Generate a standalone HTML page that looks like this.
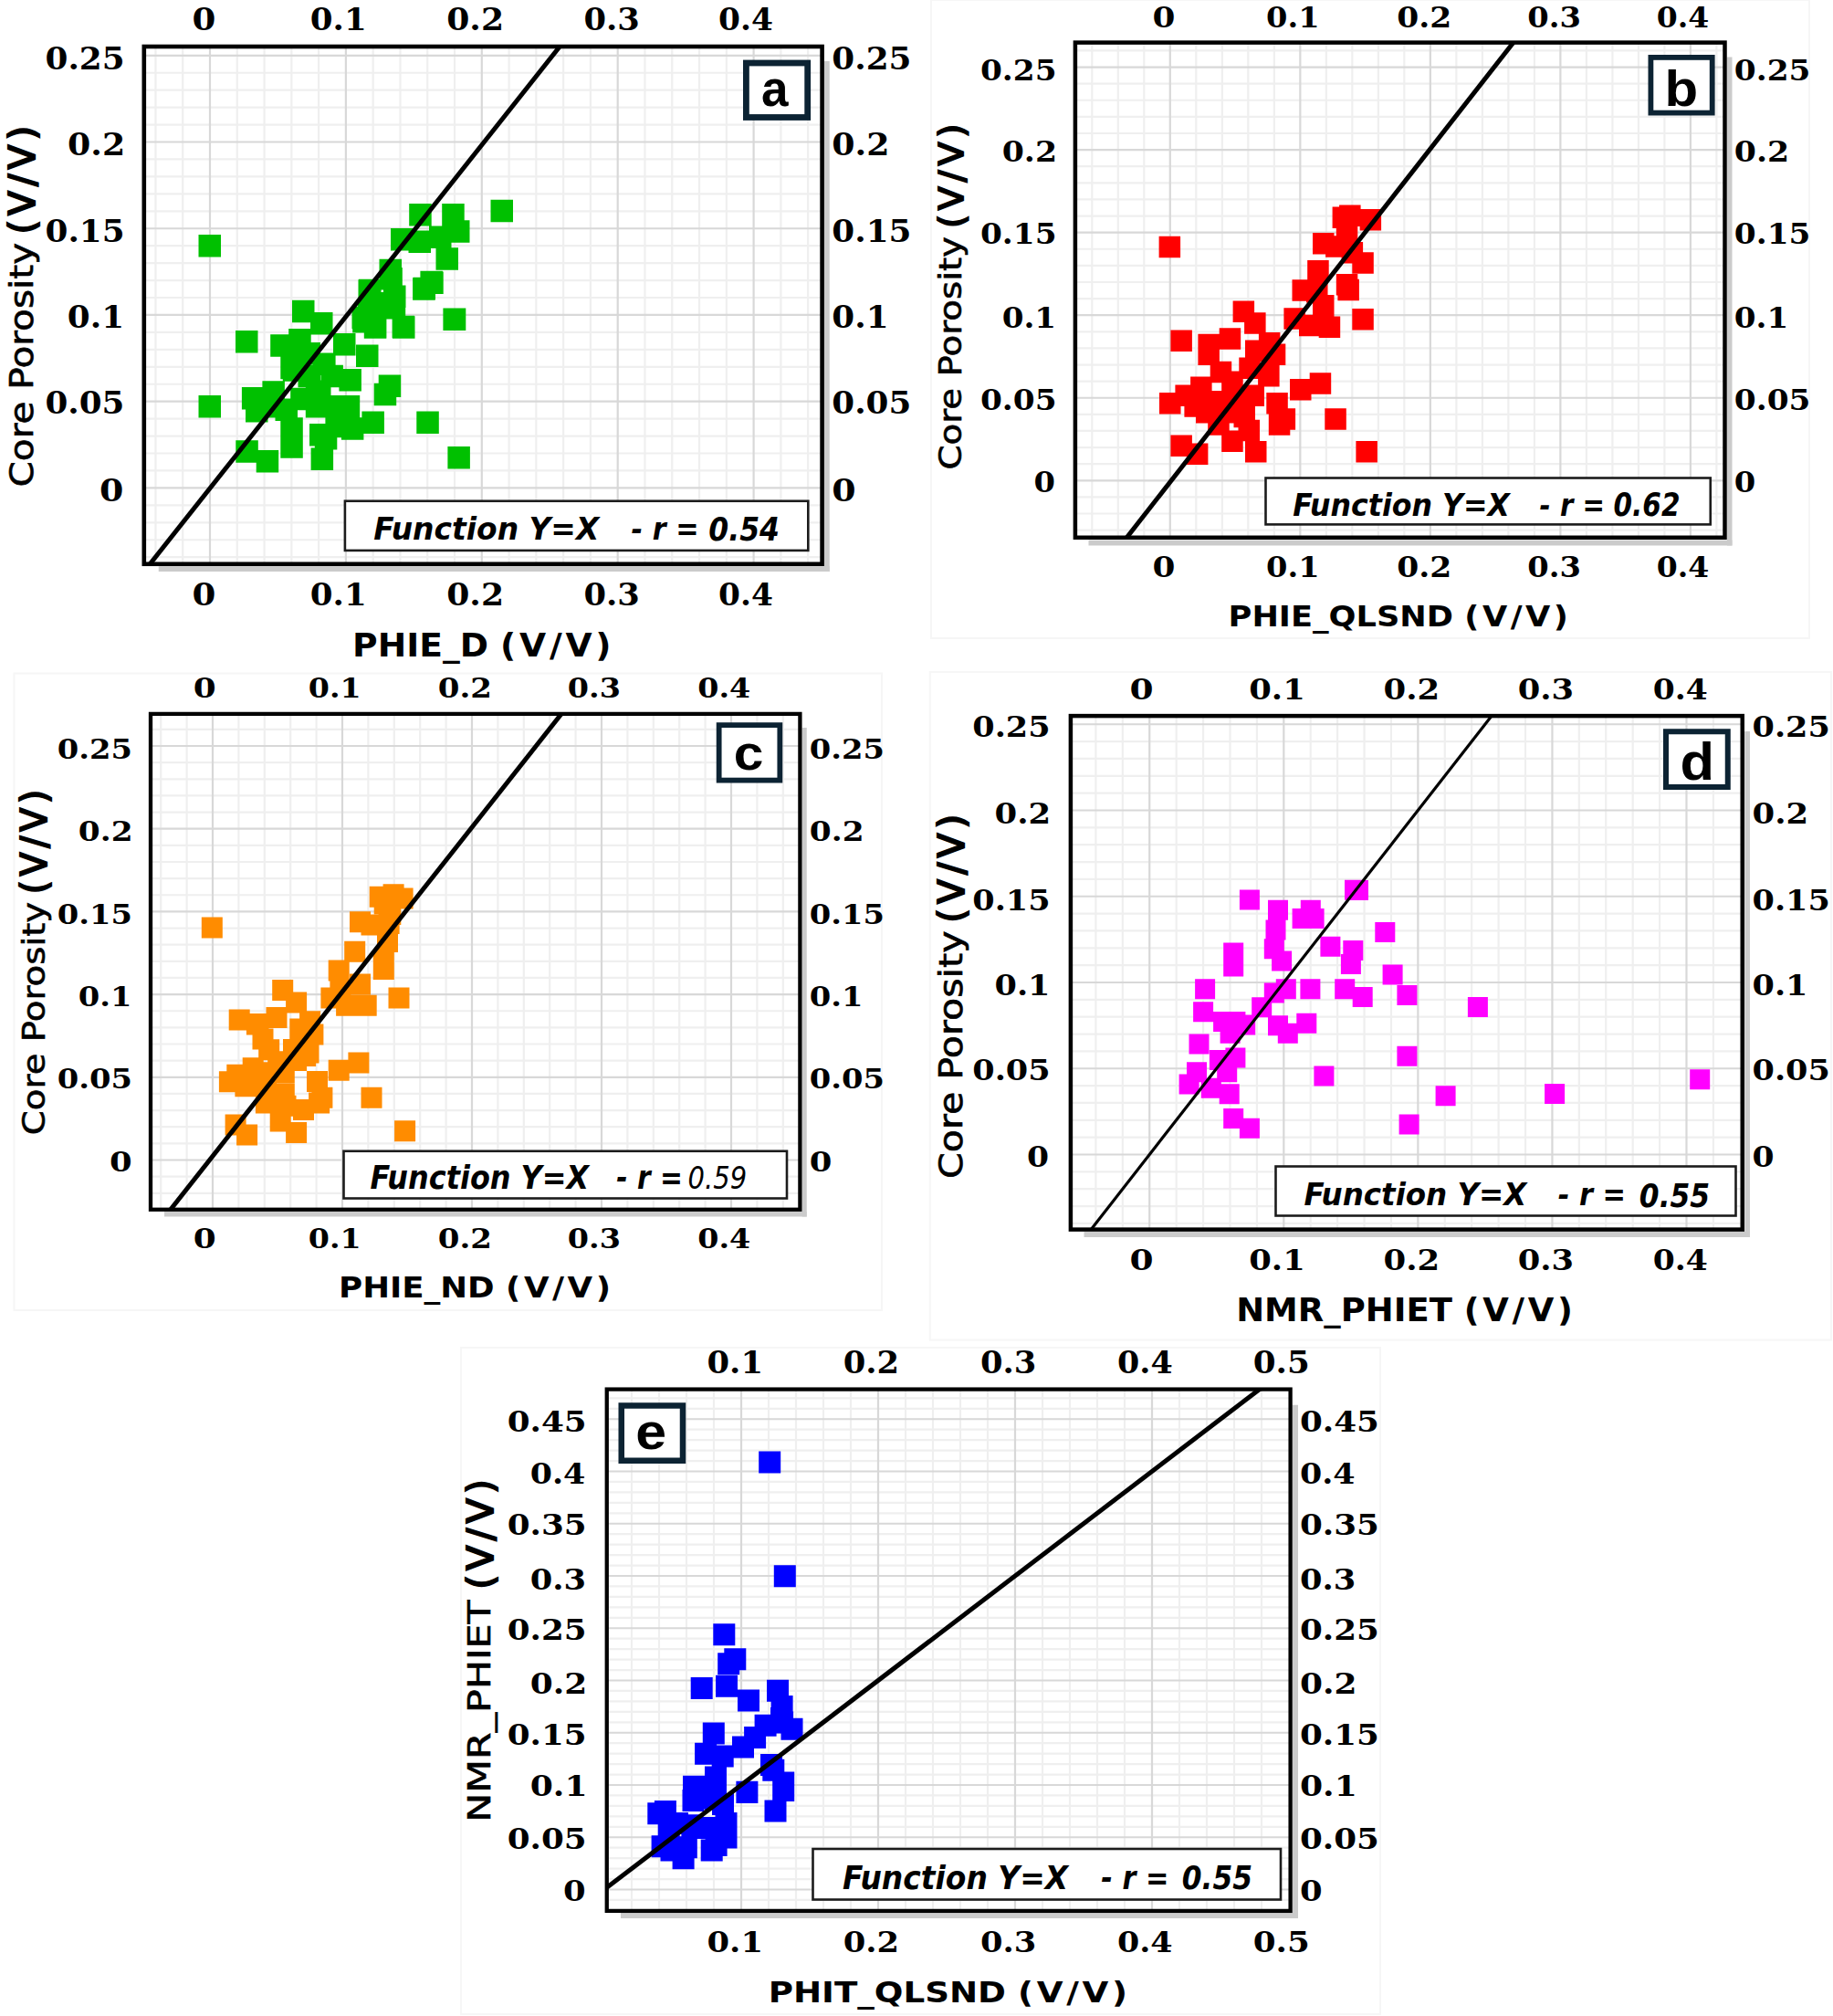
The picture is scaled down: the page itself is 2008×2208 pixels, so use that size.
<!DOCTYPE html><html><head><meta charset="utf-8"><title>Porosity crossplots</title><style>html,body{margin:0;padding:0;background:#fff;}svg{display:block}text{white-space:pre}</style></head><body>
<svg xmlns="http://www.w3.org/2000/svg" width="2008" height="2208" viewBox="0 0 2008 2208" shape-rendering="auto">
<defs>
<clipPath id="clipa"><rect x="157.8" y="51" width="742.8" height="566.75"/></clipPath>
<clipPath id="clipb"><rect x="1177.9" y="46.6" width="711.5999999999999" height="542.15"/></clipPath>
<clipPath id="clipc"><rect x="165" y="781.9" width="711.4" height="542.85"/></clipPath>
<clipPath id="clipd"><rect x="1172.9" y="784.1" width="735.8499999999999" height="562.4999999999999"/></clipPath>
<clipPath id="clipe"><rect x="664.75" y="1521.6" width="748.8499999999999" height="571.3000000000002"/></clipPath>
</defs>
<rect width="2008" height="2208" fill="#fff"/><g>
<rect x="1020" y="0" width="962" height="699" fill="none" stroke="#f6f6f6" stroke-width="2"/>
<rect x="15.5" y="737.5" width="950.5" height="697.5" fill="none" stroke="#f6f6f6" stroke-width="2"/>
<rect x="1018.75" y="736" width="987.25" height="731.5" fill="none" stroke="#f6f6f6" stroke-width="2"/>
<rect x="505" y="1476" width="1007" height="730" fill="none" stroke="#f6f6f6" stroke-width="2"/>
<rect x="903" y="66.9" width="5.75" height="559.1" fill="#cbcbcb"/>
<rect x="173.75" y="620.3" width="735.0" height="5.7000000000000455" fill="#cbcbcb"/>
<rect x="157.8" y="51" width="742.8" height="566.75" fill="#ffffff"/>
<g clip-path="url(#clipa)">
<path d="M170.44 51V617.75M200.22 51V617.75M259.78 51V617.75M289.56 51V617.75M319.34 51V617.75M349.12 51V617.75M408.68 51V617.75M438.46 51V617.75M468.24 51V617.75M498.02 51V617.75M557.58 51V617.75M587.36 51V617.75M617.14 51V617.75M646.92 51V617.75M706.48 51V617.75M736.26 51V617.75M766.04 51V617.75M795.82 51V617.75M855.38 51V617.75M885.16 51V617.75M157.8 610.18H900.6M157.8 591.23H900.6M157.8 572.29H900.6M157.8 553.34H900.6M157.8 515.46H900.6M157.8 496.51H900.6M157.8 477.57H900.6M157.8 458.62H900.6M157.8 420.74H900.6M157.8 401.79H900.6M157.8 382.85H900.6M157.8 363.90H900.6M157.8 326.02H900.6M157.8 307.07H900.6M157.8 288.13H900.6M157.8 269.18H900.6M157.8 231.30H900.6M157.8 212.35H900.6M157.8 193.41H900.6M157.8 174.46H900.6M157.8 136.58H900.6M157.8 117.63H900.6M157.8 98.69H900.6M157.8 79.74H900.6" stroke="#efefef" stroke-width="2.2" fill="none"/>
<path d="M230.00 51V617.75M378.90 51V617.75M527.80 51V617.75M676.70 51V617.75M825.60 51V617.75M157.8 534.40H900.6M157.8 439.68H900.6M157.8 344.96H900.6M157.8 250.24H900.6M157.8 155.52H900.6M157.8 60.80H900.6" stroke="#d8d8d8" stroke-width="2.2" fill="none"/>
<path d="M217.5 257.0h24.5v24.5h-24.5zM537.5 218.8h24.5v24.5h-24.5zM448.2 223.0h24.5v24.5h-24.5zM484.2 223.0h24.5v24.5h-24.5zM490.0 241.2h24.5v24.5h-24.5zM428.0 250.0h24.5v24.5h-24.5zM470.0 247.5h24.5v24.5h-24.5zM447.5 252.5h24.5v24.5h-24.5zM477.5 271.2h24.5v24.5h-24.5zM415.5 283.8h24.5v24.5h-24.5zM461.2 297.5h24.5v24.5h-24.5zM452.5 303.8h24.5v24.5h-24.5zM392.5 306.2h24.5v24.5h-24.5zM420.0 312.5h24.5v24.5h-24.5zM415.0 320.0h24.5v24.5h-24.5zM485.8 337.5h24.5v24.5h-24.5zM320.0 328.8h24.5v24.5h-24.5zM340.0 342.0h24.5v24.5h-24.5zM386.2 340.0h24.5v24.5h-24.5zM398.8 346.2h24.5v24.5h-24.5zM430.0 346.2h24.5v24.5h-24.5zM258.0 362.0h24.5v24.5h-24.5zM296.2 366.2h24.5v24.5h-24.5zM316.2 360.0h24.5v24.5h-24.5zM365.0 365.0h24.5v24.5h-24.5zM390.0 377.5h24.5v24.5h-24.5zM217.5 433.1h24.5v24.5h-24.5zM307.3 390.7h24.5v24.5h-24.5zM287.4 417.3h24.5v24.5h-24.5zM264.9 424.0h24.5v24.5h-24.5zM269.0 438.1h24.5v24.5h-24.5zM371.4 404.0h24.5v24.5h-24.5zM369.7 433.1h24.5v24.5h-24.5zM396.4 450.6h24.5v24.5h-24.5zM373.9 457.2h24.5v24.5h-24.5zM339.0 463.9h24.5v24.5h-24.5zM344.8 468.1h24.5v24.5h-24.5zM340.6 490.5h24.5v24.5h-24.5zM307.3 457.2h24.5v24.5h-24.5zM307.3 477.2h24.5v24.5h-24.5zM280.7 493.0h24.5v24.5h-24.5zM258.3 482.2h24.5v24.5h-24.5zM414.7 410.6h24.5v24.5h-24.5zM409.7 419.8h24.5v24.5h-24.5zM456.3 450.6h24.5v24.5h-24.5zM490.4 488.9h24.5v24.5h-24.5zM485.4 337.4h24.5v24.5h-24.5zM309.8 366.6h24.5v24.5h-24.5zM326.5 374.9h24.5v24.5h-24.5zM309.8 393.2h24.5v24.5h-24.5zM326.5 399.8h24.5v24.5h-24.5zM343.1 386.5h24.5v24.5h-24.5zM351.4 399.8h24.5v24.5h-24.5zM334.8 416.5h24.5v24.5h-24.5zM338.0 416.5h24.5v24.5h-24.5zM318.2 424.8h24.5v24.5h-24.5zM334.8 433.1h24.5v24.5h-24.5zM351.4 433.1h24.5v24.5h-24.5zM301.5 436.4h24.5v24.5h-24.5zM284.9 433.1h24.5v24.5h-24.5zM359.8 441.4h24.5v24.5h-24.5zM356.4 454.7h24.5v24.5h-24.5zM393.0 305.8h24.5v24.5h-24.5zM416.3 293.0h24.5v24.5h-24.5zM419.7 325.0h24.5v24.5h-24.5zM385.5 335.8h24.5v24.5h-24.5zM398.9 345.8h24.5v24.5h-24.5zM429.6 345.8h24.5v24.5h-24.5zM452.1 304.2h24.5v24.5h-24.5zM460.4 296.7h24.5v24.5h-24.5zM409.7 321.6h24.5v24.5h-24.5zM391.8 330.0h24.5v24.5h-24.5z" fill="#00c000"/>
<line x1="-1182.46" y1="2318.20" x2="1959.84" y2="-1649.40" stroke="#000" stroke-width="5"/>
</g>
<rect x="377.9" y="548.75" width="507.4" height="54.14999999999998" fill="#fff" stroke="#1c1c1c" stroke-width="2.6"/>
<rect x="817.4" y="69.0" width="67.30000000000003" height="59.500000000000014" fill="#fff" stroke="#0c2333" stroke-width="6.8"/>
<rect x="157.8" y="51" width="742.8" height="566.75" fill="none" stroke="#000" stroke-width="4.6"/>
<rect x="1892" y="62.5" width="5.5" height="535.0" fill="#cbcbcb"/>
<rect x="1192.5" y="591.5" width="705.0" height="6.0" fill="#cbcbcb"/>
<rect x="1177.9" y="46.6" width="711.5999999999999" height="542.15" fill="#ffffff"/>
<g clip-path="url(#clipb)">
<path d="M1196.28 46.6V588.75M1224.79 46.6V588.75M1253.29 46.6V588.75M1310.31 46.6V588.75M1338.81 46.6V588.75M1367.32 46.6V588.75M1395.82 46.6V588.75M1452.84 46.6V588.75M1481.34 46.6V588.75M1509.85 46.6V588.75M1538.35 46.6V588.75M1595.37 46.6V588.75M1623.87 46.6V588.75M1652.38 46.6V588.75M1680.88 46.6V588.75M1737.90 46.6V588.75M1766.40 46.6V588.75M1794.91 46.6V588.75M1823.41 46.6V588.75M1880.43 46.6V588.75M1177.9 580.63H1889.5M1177.9 562.52H1889.5M1177.9 544.41H1889.5M1177.9 508.19H1889.5M1177.9 490.08H1889.5M1177.9 471.97H1889.5M1177.9 453.86H1889.5M1177.9 417.64H1889.5M1177.9 399.53H1889.5M1177.9 381.42H1889.5M1177.9 363.31H1889.5M1177.9 327.09H1889.5M1177.9 308.98H1889.5M1177.9 290.87H1889.5M1177.9 272.76H1889.5M1177.9 236.54H1889.5M1177.9 218.43H1889.5M1177.9 200.32H1889.5M1177.9 182.21H1889.5M1177.9 145.99H1889.5M1177.9 127.88H1889.5M1177.9 109.77H1889.5M1177.9 91.66H1889.5M1177.9 55.44H1889.5" stroke="#efefef" stroke-width="2.2" fill="none"/>
<path d="M1281.80 46.6V588.75M1424.33 46.6V588.75M1566.86 46.6V588.75M1709.39 46.6V588.75M1851.92 46.6V588.75M1177.9 526.30H1889.5M1177.9 435.75H1889.5M1177.9 345.20H1889.5M1177.9 254.65H1889.5M1177.9 164.10H1889.5M1177.9 73.55H1889.5" stroke="#d8d8d8" stroke-width="2.2" fill="none"/>
<path d="M1269.6 258.8h23.5v23.5h-23.5zM1459.6 226.6h23.5v23.5h-23.5zM1467.1 224.6h23.5v23.5h-23.5zM1489.6 229.1h23.5v23.5h-23.5zM1438.0 254.9h23.5v23.5h-23.5zM1452.1 258.3h23.5v23.5h-23.5zM1463.8 246.6h23.5v23.5h-23.5zM1469.6 264.9h23.5v23.5h-23.5zM1481.3 276.2h23.5v23.5h-23.5zM1432.2 284.9h23.5v23.5h-23.5zM1415.5 306.2h23.5v23.5h-23.5zM1463.8 299.9h23.5v23.5h-23.5zM1465.4 305.7h23.5v23.5h-23.5zM1431.0 308.0h23.5v23.5h-23.5zM1438.0 323.1h23.5v23.5h-23.5zM1406.4 337.3h23.5v23.5h-23.5zM1423.0 344.8h23.5v23.5h-23.5zM1444.7 346.4h23.5v23.5h-23.5zM1481.3 338.1h23.5v23.5h-23.5zM1350.6 329.5h23.5v23.5h-23.5zM1363.1 342.3h23.5v23.5h-23.5zM1282.4 361.6h23.5v23.5h-23.5zM1312.4 365.8h23.5v23.5h-23.5zM1335.7 359.2h23.5v23.5h-23.5zM1378.9 364.1h23.5v23.5h-23.5zM1364.0 372.5h23.5v23.5h-23.5zM1384.8 376.6h23.5v23.5h-23.5zM1312.4 376.6h23.5v23.5h-23.5zM1325.7 395.8h23.5v23.5h-23.5zM1357.3 391.6h23.5v23.5h-23.5zM1378.1 399.9h23.5v23.5h-23.5zM1304.1 412.4h23.5v23.5h-23.5zM1287.4 421.5h23.5v23.5h-23.5zM1270.0 429.9h23.5v23.5h-23.5zM1297.4 433.2h23.5v23.5h-23.5zM1338.2 406.6h23.5v23.5h-23.5zM1361.5 421.5h23.5v23.5h-23.5zM1323.2 453.2h23.5v23.5h-23.5zM1351.5 444.8h23.5v23.5h-23.5zM1356.5 459.8h23.5v23.5h-23.5zM1338.2 471.5h23.5v23.5h-23.5zM1364.0 483.1h23.5v23.5h-23.5zM1282.4 476.5h23.5v23.5h-23.5zM1299.9 485.6h23.5v23.5h-23.5zM1387.3 429.9h23.5v23.5h-23.5zM1395.6 447.3h23.5v23.5h-23.5zM1389.8 453.2h23.5v23.5h-23.5zM1413.0 414.9h23.5v23.5h-23.5zM1434.7 408.2h23.5v23.5h-23.5zM1451.3 447.3h23.5v23.5h-23.5zM1485.4 483.1h23.5v23.5h-23.5zM1318.0 428.0h23.5v23.5h-23.5zM1340.0 428.0h23.5v23.5h-23.5zM1310.0 440.0h23.5v23.5h-23.5zM1330.0 440.0h23.5v23.5h-23.5z" fill="#ff0000"/>
<line x1="-27.40" y1="2203.90" x2="2918.90" y2="-1567.70" stroke="#000" stroke-width="5"/>
</g>
<rect x="1386.5" y="523.5" width="487.25" height="50.89999999999998" fill="#fff" stroke="#1c1c1c" stroke-width="2.6"/>
<rect x="1808.4" y="62.9" width="67.29999999999991" height="60.7" fill="#fff" stroke="#0c2333" stroke-width="5.8"/>
<rect x="1177.9" y="46.6" width="711.5999999999999" height="542.15" fill="none" stroke="#000" stroke-width="4.5"/>
<rect x="878.75" y="797" width="5.0" height="535.5" fill="#cbcbcb"/>
<rect x="180" y="1327" width="703.75" height="5.5" fill="#cbcbcb"/>
<rect x="165" y="781.9" width="711.4" height="542.85" fill="#ffffff"/>
<g clip-path="url(#clipc)">
<path d="M176.20 781.9V1324.75M204.60 781.9V1324.75M261.40 781.9V1324.75M289.80 781.9V1324.75M318.20 781.9V1324.75M346.60 781.9V1324.75M403.40 781.9V1324.75M431.80 781.9V1324.75M460.20 781.9V1324.75M488.60 781.9V1324.75M545.40 781.9V1324.75M573.80 781.9V1324.75M602.20 781.9V1324.75M630.60 781.9V1324.75M687.40 781.9V1324.75M715.80 781.9V1324.75M744.20 781.9V1324.75M772.60 781.9V1324.75M829.40 781.9V1324.75M857.80 781.9V1324.75M165 1306.78H876.4M165 1288.64H876.4M165 1252.36H876.4M165 1234.22H876.4M165 1216.08H876.4M165 1197.94H876.4M165 1161.66H876.4M165 1143.52H876.4M165 1125.38H876.4M165 1107.24H876.4M165 1070.96H876.4M165 1052.82H876.4M165 1034.68H876.4M165 1016.54H876.4M165 980.26H876.4M165 962.12H876.4M165 943.98H876.4M165 925.84H876.4M165 889.56H876.4M165 871.42H876.4M165 853.28H876.4M165 835.14H876.4M165 798.86H876.4" stroke="#efefef" stroke-width="2.2" fill="none"/>
<path d="M233.00 781.9V1324.75M375.00 781.9V1324.75M517.00 781.9V1324.75M659.00 781.9V1324.75M801.00 781.9V1324.75M165 1270.50H876.4M165 1179.80H876.4M165 1089.10H876.4M165 998.40H876.4M165 907.70H876.4M165 817.00H876.4" stroke="#d8d8d8" stroke-width="2.2" fill="none"/>
<path d="M220.8 1004.6h23v23h-23zM404.7 970.8h23v23h-23zM419.6 968.3h23v23h-23zM429.6 972.5h23v23h-23zM409.7 978.3h23v23h-23zM416.3 990.0h23v23h-23zM383.0 998.3h23v23h-23zM395.5 1001.6h23v23h-23zM414.6 1000.0h23v23h-23zM413.0 1019.9h23v23h-23zM377.2 1030.7h23v23h-23zM408.8 1040.0h23v23h-23zM408.8 1050.0h23v23h-23zM359.7 1051.5h23v23h-23zM383.0 1066.5h23v23h-23zM351.4 1081.5h23v23h-23zM368.1 1089.8h23v23h-23zM389.7 1089.8h23v23h-23zM425.5 1081.5h23v23h-23zM298.2 1073.1h23v23h-23zM313.1 1086.5h23v23h-23zM328.1 1107.3h23v23h-23zM317.3 1115.6h23v23h-23zM291.5 1103.1h23v23h-23zM250.7 1105.6h23v23h-23zM269.9 1110.6h23v23h-23zM361.4 1073.0h23v23h-23zM271.5 1110.0h23v23h-23zM331.4 1121.6h23v23h-23zM276.5 1126.6h23v23h-23zM283.2 1138.3h23v23h-23zM310.0 1138.0h23v23h-23zM326.5 1141.6h23v23h-23zM323.1 1144.9h23v23h-23zM265.7 1158.2h23v23h-23zM248.3 1165.7h23v23h-23zM239.9 1173.2h23v23h-23zM257.4 1178.2h23v23h-23zM279.9 1163.2h23v23h-23zM299.8 1163.2h23v23h-23zM313.1 1149.9h23v23h-23zM359.7 1160.7h23v23h-23zM381.4 1152.4h23v23h-23zM341.4 1190.7h23v23h-23zM338.1 1196.5h23v23h-23zM299.8 1186.5h23v23h-23zM279.9 1196.5h23v23h-23zM301.5 1199.8h23v23h-23zM321.0 1204.0h23v23h-23zM295.7 1216.5h23v23h-23zM313.1 1229.0h23v23h-23zM246.6 1220.6h23v23h-23zM259.1 1231.4h23v23h-23zM395.5 1190.7h23v23h-23zM432.1 1227.3h23v23h-23zM293.2 1151.3h23v23h-23zM336.0 1173.0h23v23h-23zM279.9 1183.0h23v23h-23z" fill="#ff8c00"/>
<line x1="-497.10" y1="2192.00" x2="1203.20" y2="36.00" stroke="#000" stroke-width="5"/>
</g>
<rect x="376.5" y="1260.75" width="485.5" height="51.75" fill="#fff" stroke="#1c1c1c" stroke-width="2.6"/>
<rect x="787.65" y="794.15" width="66.7" height="60.45" fill="#fff" stroke="#0c2333" stroke-width="5.8"/>
<rect x="165" y="781.9" width="711.4" height="542.85" fill="none" stroke="#000" stroke-width="4.3"/>
<rect x="1911.25" y="801" width="5.75" height="554" fill="#cbcbcb"/>
<rect x="1187.5" y="1348.75" width="729.5" height="6.25" fill="#cbcbcb"/>
<rect x="1172.9" y="784.1" width="735.8499999999999" height="562.4999999999999" fill="#ffffff"/>
<g clip-path="url(#clipd)">
<path d="M1200.43 784.1V1346.6M1229.84 784.1V1346.6M1288.66 784.1V1346.6M1318.07 784.1V1346.6M1347.49 784.1V1346.6M1376.90 784.1V1346.6M1435.72 784.1V1346.6M1465.13 784.1V1346.6M1494.55 784.1V1346.6M1523.96 784.1V1346.6M1582.78 784.1V1346.6M1612.19 784.1V1346.6M1641.61 784.1V1346.6M1671.02 784.1V1346.6M1729.84 784.1V1346.6M1759.25 784.1V1346.6M1788.67 784.1V1346.6M1818.08 784.1V1346.6M1876.90 784.1V1346.6M1172.9 1339.90H1908.75M1172.9 1321.05H1908.75M1172.9 1302.20H1908.75M1172.9 1283.35H1908.75M1172.9 1245.65H1908.75M1172.9 1226.80H1908.75M1172.9 1207.95H1908.75M1172.9 1189.10H1908.75M1172.9 1151.40H1908.75M1172.9 1132.55H1908.75M1172.9 1113.70H1908.75M1172.9 1094.85H1908.75M1172.9 1057.15H1908.75M1172.9 1038.30H1908.75M1172.9 1019.45H1908.75M1172.9 1000.60H1908.75M1172.9 962.90H1908.75M1172.9 944.05H1908.75M1172.9 925.20H1908.75M1172.9 906.35H1908.75M1172.9 868.65H1908.75M1172.9 849.80H1908.75M1172.9 830.95H1908.75M1172.9 812.10H1908.75" stroke="#efefef" stroke-width="2.2" fill="none"/>
<path d="M1259.25 784.1V1346.6M1406.31 784.1V1346.6M1553.37 784.1V1346.6M1700.43 784.1V1346.6M1847.49 784.1V1346.6M1172.9 1264.50H1908.75M1172.9 1170.25H1908.75M1172.9 1076.00H1908.75M1172.9 981.75H1908.75M1172.9 887.50H1908.75M1172.9 793.25H1908.75" stroke="#d8d8d8" stroke-width="2.2" fill="none"/>
<path d="M1357.9 974.6h22v22h-22zM1473.0 963.7h22v22h-22zM1477.0 964.0h22v22h-22zM1389.0 985.8h22v22h-22zM1424.8 985.8h22v22h-22zM1415.6 994.9h22v22h-22zM1428.6 994.9h22v22h-22zM1386.5 1007.4h22v22h-22zM1384.8 1028.2h22v22h-22zM1393.1 1041.5h22v22h-22zM1340.2 1032.4h22v22h-22zM1340.2 1047.4h22v22h-22zM1506.3 1009.9h22v22h-22zM1446.4 1025.7h22v22h-22zM1471.3 1029.9h22v22h-22zM1468.9 1044.9h22v22h-22zM1514.6 1056.5h22v22h-22zM1530.4 1079.0h22v22h-22zM1462.2 1072.3h22v22h-22zM1481.7 1081.1h22v22h-22zM1424.4 1072.3h22v22h-22zM1397.8 1072.3h22v22h-22zM1384.8 1076.5h22v22h-22zM1371.2 1092.3h22v22h-22zM1309.1 1072.3h22v22h-22zM1307.1 1097.3h22v22h-22zM1329.1 1108.1h22v22h-22zM1342.4 1108.1h22v22h-22zM1389.0 1112.2h22v22h-22zM1420.3 1109.8h22v22h-22zM1353.2 1111.6h22v22h-22zM1336.6 1120.8h22v22h-22zM1399.8 1120.8h22v22h-22zM1302.5 1132.4h22v22h-22zM1324.9 1149.9h22v22h-22zM1342.4 1147.4h22v22h-22zM1300.0 1163.2h22v22h-22zM1291.6 1176.5h22v22h-22zM1333.2 1163.2h22v22h-22zM1315.8 1180.7h22v22h-22zM1335.7 1187.3h22v22h-22zM1340.2 1214.0h22v22h-22zM1357.9 1224.8h22v22h-22zM1439.4 1167.4h22v22h-22zM1530.4 1145.7h22v22h-22zM1532.6 1220.6h22v22h-22zM1607.9 1091.9h22v22h-22zM1572.6 1189.3h22v22h-22zM1692.1 1187.1h22v22h-22zM1851.2 1171.3h22v22h-22z" fill="#ff00ff"/>
<line x1="-211.35" y1="3149.50" x2="2729.85" y2="-620.50" stroke="#000" stroke-width="3.2"/>
</g>
<rect x="1397.5" y="1277.5" width="504.0" height="54.0" fill="#fff" stroke="#1c1c1c" stroke-width="2.6"/>
<rect x="1825.0" y="801.25" width="67.75" height="60.75" fill="#fff" stroke="#0c2333" stroke-width="6"/>
<rect x="1172.9" y="784.1" width="735.8499999999999" height="562.4999999999999" fill="none" stroke="#000" stroke-width="4.5"/>
<rect x="1415.75" y="1538.75" width="6.25" height="562.25" fill="#cbcbcb"/>
<rect x="680" y="2094.5" width="742" height="6.5" fill="#cbcbcb"/>
<rect x="664.75" y="1521.6" width="748.8499999999999" height="571.3000000000002" fill="#ffffff"/>
<g clip-path="url(#clipe)">
<path d="M692.00 1521.6V2092.9M722.00 1521.6V2092.9M752.00 1521.6V2092.9M782.00 1521.6V2092.9M842.00 1521.6V2092.9M872.00 1521.6V2092.9M902.00 1521.6V2092.9M932.00 1521.6V2092.9M992.00 1521.6V2092.9M1022.00 1521.6V2092.9M1052.00 1521.6V2092.9M1082.00 1521.6V2092.9M1142.00 1521.6V2092.9M1172.00 1521.6V2092.9M1202.00 1521.6V2092.9M1232.00 1521.6V2092.9M1292.00 1521.6V2092.9M1322.00 1521.6V2092.9M1352.00 1521.6V2092.9M1382.00 1521.6V2092.9M664.75 2080.95H1413.6M664.75 2058.05H1413.6M664.75 2046.60H1413.6M664.75 2035.15H1413.6M664.75 2023.70H1413.6M664.75 2000.80H1413.6M664.75 1989.35H1413.6M664.75 1977.90H1413.6M664.75 1966.45H1413.6M664.75 1943.55H1413.6M664.75 1932.10H1413.6M664.75 1920.65H1413.6M664.75 1909.20H1413.6M664.75 1886.30H1413.6M664.75 1874.85H1413.6M664.75 1863.40H1413.6M664.75 1851.95H1413.6M664.75 1829.05H1413.6M664.75 1817.60H1413.6M664.75 1806.15H1413.6M664.75 1794.70H1413.6M664.75 1771.80H1413.6M664.75 1760.35H1413.6M664.75 1748.90H1413.6M664.75 1737.45H1413.6M664.75 1714.55H1413.6M664.75 1703.10H1413.6M664.75 1691.65H1413.6M664.75 1680.20H1413.6M664.75 1657.30H1413.6M664.75 1645.85H1413.6M664.75 1634.40H1413.6M664.75 1622.95H1413.6M664.75 1600.05H1413.6M664.75 1588.60H1413.6M664.75 1577.15H1413.6M664.75 1565.70H1413.6M664.75 1542.80H1413.6M664.75 1531.35H1413.6" stroke="#efefef" stroke-width="2.2" fill="none"/>
<path d="M812.00 1521.6V2092.9M962.00 1521.6V2092.9M1112.00 1521.6V2092.9M1262.00 1521.6V2092.9M664.75 2069.50H1413.6M664.75 2012.25H1413.6M664.75 1955.00H1413.6M664.75 1897.75H1413.6M664.75 1840.50H1413.6M664.75 1783.25H1413.6M664.75 1726.00H1413.6M664.75 1668.75H1413.6M664.75 1611.50H1413.6M664.75 1554.25H1413.6" stroke="#d8d8d8" stroke-width="2.2" fill="none"/>
<path d="M831.2 1589.5h24v24h-24zM847.8 1714.3h24v24h-24zM781.3 1778.3h24v24h-24zM793.3 1805.3h24v24h-24zM786.2 1810.2h24v24h-24zM784.0 1834.7h24v24h-24zM756.7 1836.9h24v24h-24zM808.0 1850.6h24v24h-24zM840.0 1839.7h24v24h-24zM844.6 1857.1h24v24h-24zM845.1 1874.6h24v24h-24zM826.6 1877.8h24v24h-24zM855.5 1881.7h24v24h-24zM815.1 1890.9h24v24h-24zM769.8 1886.6h24v24h-24zM761.1 1908.7h24v24h-24zM779.7 1911.5h24v24h-24zM802.0 1901.6h24v24h-24zM844.0 1870.0h24v24h-24zM833.0 1921.0h24v24h-24zM835.3 1926.7h24v24h-24zM846.2 1940.4h24v24h-24zM846.2 1949.0h24v24h-24zM837.5 1971.5h24v24h-24zM806.4 1950.7h24v24h-24zM772.0 1934.4h24v24h-24zM748.0 1944.7h24v24h-24zM748.0 1957.3h24v24h-24zM709.3 1974.2h24v24h-24zM716.9 1972.0h24v24h-24zM713.6 2010.2h24v24h-24zM723.5 2014.6h24v24h-24zM736.6 2023.3h24v24h-24zM739.8 2011.3h24v24h-24zM767.7 2014.6h24v24h-24zM772.6 2009.1h24v24h-24zM783.5 1985.1h24v24h-24zM783.5 2000.5h24v24h-24zM747.5 1960.0h24v24h-24zM806.4 1951.0h24v24h-24zM720.7 1998.0h24v24h-24zM746.4 1987.3h24v24h-24zM760.0 1990.0h24v24h-24zM730.0 1985.0h24v24h-24zM772.0 1958.0h24v24h-24zM780.0 1964.0h24v24h-24z" fill="#0000ff"/>
<line x1="-838.00" y1="3214.50" x2="2162.00" y2="924.50" stroke="#000" stroke-width="5"/>
</g>
<rect x="890.5" y="2025" width="512.5" height="55.5" fill="#fff" stroke="#1c1c1c" stroke-width="2.6"/>
<rect x="680.75" y="1539.5" width="67.25" height="60.25" fill="#fff" stroke="#0c2333" stroke-width="6.5"/>
<rect x="664.75" y="1521.6" width="748.8499999999999" height="571.3000000000002" fill="none" stroke="#000" stroke-width="4.3"/>
<text transform="translate(210.44,33.17) scale(1.1263,1)" font-size="33.00"><tspan font-family="DejaVu Serif" font-weight="bold" font-style="normal">0</tspan></text>
<text transform="translate(210.44,663.42) scale(1.1150,1)" font-size="33.33"><tspan font-family="DejaVu Serif" font-weight="bold" font-style="normal">0</tspan></text>
<text transform="translate(339.72,33.17) scale(1.0806,1)" font-size="33.00"><tspan font-family="DejaVu Serif" font-weight="bold" font-style="normal">0.1</tspan></text>
<text transform="translate(339.72,663.42) scale(1.0698,1)" font-size="33.33"><tspan font-family="DejaVu Serif" font-weight="bold" font-style="normal">0.1</tspan></text>
<text transform="translate(489.19,33.17) scale(1.0947,1)" font-size="33.00"><tspan font-family="DejaVu Serif" font-weight="bold" font-style="normal">0.2</tspan></text>
<text transform="translate(489.19,663.42) scale(1.0837,1)" font-size="33.33"><tspan font-family="DejaVu Serif" font-weight="bold" font-style="normal">0.2</tspan></text>
<text transform="translate(639.44,33.17) scale(1.0690,1)" font-size="33.00"><tspan font-family="DejaVu Serif" font-weight="bold" font-style="normal">0.3</tspan></text>
<text transform="translate(639.44,663.42) scale(1.0583,1)" font-size="33.33"><tspan font-family="DejaVu Serif" font-weight="bold" font-style="normal">0.3</tspan></text>
<text transform="translate(786.98,33.17) scale(1.0432,1)" font-size="33.00"><tspan font-family="DejaVu Serif" font-weight="bold" font-style="normal">0.4</tspan></text>
<text transform="translate(786.98,663.42) scale(1.0327,1)" font-size="33.33"><tspan font-family="DejaVu Serif" font-weight="bold" font-style="normal">0.4</tspan></text>
<text transform="translate(49.51,76.41) scale(1.0427,1)" font-size="34.33"><tspan font-family="DejaVu Serif" font-weight="bold" font-style="normal">0.25</tspan></text>
<text transform="translate(911.31,76.41) scale(1.0427,1)" font-size="34.33"><tspan font-family="DejaVu Serif" font-weight="bold" font-style="normal">0.25</tspan></text>
<text transform="translate(74.08,169.91) scale(1.0576,1)" font-size="34.33"><tspan font-family="DejaVu Serif" font-weight="bold" font-style="normal">0.2</tspan></text>
<text transform="translate(911.28,169.91) scale(1.0576,1)" font-size="34.33"><tspan font-family="DejaVu Serif" font-weight="bold" font-style="normal">0.2</tspan></text>
<text transform="translate(49.51,265.41) scale(1.0427,1)" font-size="34.33"><tspan font-family="DejaVu Serif" font-weight="bold" font-style="normal">0.15</tspan></text>
<text transform="translate(911.31,265.41) scale(1.0427,1)" font-size="34.33"><tspan font-family="DejaVu Serif" font-weight="bold" font-style="normal">0.15</tspan></text>
<text transform="translate(73.81,359.41) scale(1.0423,1)" font-size="34.33"><tspan font-family="DejaVu Serif" font-weight="bold" font-style="normal">0.1</tspan></text>
<text transform="translate(911.31,359.41) scale(1.0423,1)" font-size="34.33"><tspan font-family="DejaVu Serif" font-weight="bold" font-style="normal">0.1</tspan></text>
<text transform="translate(49.46,452.91) scale(1.0402,1)" font-size="34.33"><tspan font-family="DejaVu Serif" font-weight="bold" font-style="normal">0.05</tspan></text>
<text transform="translate(911.31,452.91) scale(1.0402,1)" font-size="34.33"><tspan font-family="DejaVu Serif" font-weight="bold" font-style="normal">0.05</tspan></text>
<text transform="translate(109.10,549.16) scale(1.1044,1)" font-size="34.33"><tspan font-family="DejaVu Serif" font-weight="bold" font-style="normal">0</tspan></text>
<text transform="translate(911.20,549.16) scale(1.1044,1)" font-size="34.33"><tspan font-family="DejaVu Serif" font-weight="bold" font-style="normal">0</tspan></text>
<text transform="translate(386.11,718.98) scale(1.0606,1)" font-size="35.50"><tspan font-family="DejaVu Sans" font-weight="bold" font-style="normal">PHIE_D </tspan><tspan font-family="DejaVu Sans" font-weight="bold" font-style="normal" letter-spacing="0.1em">(V/V)</tspan></text>
<text transform="translate(35.94,533.53) rotate(-90) scale(1.1525,1)" font-size="35.25"><tspan font-family="DejaVu Sans" font-weight="normal" font-style="normal" stroke="#000" stroke-width="0.018em">Core Porosity</tspan></text>
<text transform="translate(38.33,256.33) rotate(-90) scale(0.9927,1)" font-size="39.16"><tspan font-family="DejaVu Sans" font-weight="normal" font-style="normal" letter-spacing="0.14em" stroke="#000" stroke-width="0.055em">(V/V)</tspan></text>
<text transform="translate(409.34,590.91) scale(0.9654,1)" font-size="34.09"><tspan font-family="DejaVu Sans" font-weight="bold" font-style="italic">Function Y=X</tspan></text>
<text transform="translate(691.59,590.91) scale(0.8889,1)" font-size="34.09"><tspan font-family="DejaVu Sans" font-weight="bold" font-style="italic">- r =</tspan></text>
<text transform="translate(776.24,591.64) scale(0.8872,1)" font-size="35.53"><tspan font-family="DejaVu Sans" font-weight="bold" font-style="italic">0.54</tspan></text>
<text transform="translate(834.01,115.69) scale(0.9531,1)" font-size="55.73"><tspan font-family="Liberation Sans" font-weight="bold" font-style="normal">a</tspan></text>
<text transform="translate(1262.46,30.19) scale(1.1436,1)" font-size="31.33"><tspan font-family="DejaVu Serif" font-weight="bold" font-style="normal">0</tspan></text>
<text transform="translate(1262.46,632.19) scale(1.1559,1)" font-size="31.00"><tspan font-family="DejaVu Serif" font-weight="bold" font-style="normal">0</tspan></text>
<text transform="translate(1387.07,30.19) scale(1.0739,1)" font-size="31.33"><tspan font-family="DejaVu Serif" font-weight="bold" font-style="normal">0.1</tspan></text>
<text transform="translate(1387.07,632.19) scale(1.0854,1)" font-size="31.00"><tspan font-family="DejaVu Serif" font-weight="bold" font-style="normal">0.1</tspan></text>
<text transform="translate(1530.27,30.19) scale(1.1021,1)" font-size="31.33"><tspan font-family="DejaVu Serif" font-weight="bold" font-style="normal">0.2</tspan></text>
<text transform="translate(1530.27,632.19) scale(1.1139,1)" font-size="31.00"><tspan font-family="DejaVu Serif" font-weight="bold" font-style="normal">0.2</tspan></text>
<text transform="translate(1673.31,30.19) scale(1.0769,1)" font-size="31.33"><tspan font-family="DejaVu Serif" font-weight="bold" font-style="normal">0.3</tspan></text>
<text transform="translate(1673.31,632.19) scale(1.0885,1)" font-size="31.00"><tspan font-family="DejaVu Serif" font-weight="bold" font-style="normal">0.3</tspan></text>
<text transform="translate(1814.85,30.19) scale(1.0542,1)" font-size="31.33"><tspan font-family="DejaVu Serif" font-weight="bold" font-style="normal">0.4</tspan></text>
<text transform="translate(1814.85,632.19) scale(1.0655,1)" font-size="31.00"><tspan font-family="DejaVu Serif" font-weight="bold" font-style="normal">0.4</tspan></text>
<text transform="translate(1073.88,87.68) scale(1.0631,1)" font-size="32.33"><tspan font-family="DejaVu Serif" font-weight="bold" font-style="normal">0.25</tspan></text>
<text transform="translate(1899.78,87.68) scale(1.0631,1)" font-size="32.33"><tspan font-family="DejaVu Serif" font-weight="bold" font-style="normal">0.25</tspan></text>
<text transform="translate(1097.66,177.43) scale(1.0747,1)" font-size="32.33"><tspan font-family="DejaVu Serif" font-weight="bold" font-style="normal">0.2</tspan></text>
<text transform="translate(1899.76,177.43) scale(1.0747,1)" font-size="32.33"><tspan font-family="DejaVu Serif" font-weight="bold" font-style="normal">0.2</tspan></text>
<text transform="translate(1073.88,266.93) scale(1.0631,1)" font-size="32.33"><tspan font-family="DejaVu Serif" font-weight="bold" font-style="normal">0.15</tspan></text>
<text transform="translate(1899.78,266.93) scale(1.0631,1)" font-size="32.33"><tspan font-family="DejaVu Serif" font-weight="bold" font-style="normal">0.15</tspan></text>
<text transform="translate(1097.69,358.93) scale(1.0572,1)" font-size="32.33"><tspan font-family="DejaVu Serif" font-weight="bold" font-style="normal">0.1</tspan></text>
<text transform="translate(1899.79,358.93) scale(1.0572,1)" font-size="32.33"><tspan font-family="DejaVu Serif" font-weight="bold" font-style="normal">0.1</tspan></text>
<text transform="translate(1073.88,448.93) scale(1.0631,1)" font-size="32.33"><tspan font-family="DejaVu Serif" font-weight="bold" font-style="normal">0.05</tspan></text>
<text transform="translate(1899.78,448.93) scale(1.0631,1)" font-size="32.33"><tspan font-family="DejaVu Serif" font-weight="bold" font-style="normal">0.05</tspan></text>
<text transform="translate(1132.56,538.93) scale(1.0438,1)" font-size="32.33"><tspan font-family="DejaVu Serif" font-weight="bold" font-style="normal">0</tspan></text>
<text transform="translate(1899.81,538.93) scale(1.0438,1)" font-size="32.33"><tspan font-family="DejaVu Serif" font-weight="bold" font-style="normal">0</tspan></text>
<text transform="translate(1345.58,685.94) scale(1.1180,1)" font-size="31.50"><tspan font-family="DejaVu Sans" font-weight="bold" font-style="normal">PHIE_QLSND </tspan><tspan font-family="DejaVu Sans" font-weight="bold" font-style="normal" letter-spacing="0.1em">(V/V)</tspan></text>
<text transform="translate(1053.42,514.44) rotate(-90) scale(1.1252,1)" font-size="34.44"><tspan font-family="DejaVu Sans" font-weight="normal" font-style="normal" stroke="#000" stroke-width="0.018em">Core Porosity</tspan></text>
<text transform="translate(1054.95,249.84) rotate(-90) scale(0.9899,1)" font-size="37.79"><tspan font-family="DejaVu Sans" font-weight="normal" font-style="normal" letter-spacing="0.14em" stroke="#000" stroke-width="0.055em">(V/V)</tspan></text>
<text transform="translate(1416.37,565.16) scale(0.9373,1)" font-size="33.77"><tspan font-family="DejaVu Sans" font-weight="bold" font-style="italic">Function Y=X</tspan></text>
<text transform="translate(1686.62,565.16) scale(0.8654,1)" font-size="33.77"><tspan font-family="DejaVu Sans" font-weight="bold" font-style="italic">- r =</tspan></text>
<text transform="translate(1767.57,564.81) scale(0.8502,1)" font-size="34.74"><tspan font-family="DejaVu Sans" font-weight="bold" font-style="italic">0.62</tspan></text>
<text transform="translate(1823.55,115.60) scale(1.0788,1)" font-size="55.62"><tspan font-family="Liberation Sans" font-weight="bold" font-style="normal">b</tspan></text>
<text transform="translate(211.71,764.20) scale(1.1944,1)" font-size="30.00"><tspan font-family="DejaVu Serif" font-weight="bold" font-style="normal">0</tspan></text>
<text transform="translate(211.71,1366.71) scale(1.2216,1)" font-size="29.33"><tspan font-family="DejaVu Serif" font-weight="bold" font-style="normal">0</tspan></text>
<text transform="translate(337.83,764.20) scale(1.1111,1)" font-size="30.00"><tspan font-family="DejaVu Serif" font-weight="bold" font-style="normal">0.1</tspan></text>
<text transform="translate(337.83,1366.71) scale(1.1364,1)" font-size="29.33"><tspan font-family="DejaVu Serif" font-weight="bold" font-style="normal">0.1</tspan></text>
<text transform="translate(479.80,764.20) scale(1.1354,1)" font-size="30.00"><tspan font-family="DejaVu Serif" font-weight="bold" font-style="normal">0.2</tspan></text>
<text transform="translate(479.80,1366.71) scale(1.1612,1)" font-size="29.33"><tspan font-family="DejaVu Serif" font-weight="bold" font-style="normal">0.2</tspan></text>
<text transform="translate(621.83,764.20) scale(1.1145,1)" font-size="30.00"><tspan font-family="DejaVu Serif" font-weight="bold" font-style="normal">0.3</tspan></text>
<text transform="translate(621.83,1366.71) scale(1.1398,1)" font-size="29.33"><tspan font-family="DejaVu Serif" font-weight="bold" font-style="normal">0.3</tspan></text>
<text transform="translate(764.33,764.20) scale(1.1111,1)" font-size="30.00"><tspan font-family="DejaVu Serif" font-weight="bold" font-style="normal">0.4</tspan></text>
<text transform="translate(764.33,1366.71) scale(1.1364,1)" font-size="29.33"><tspan font-family="DejaVu Serif" font-weight="bold" font-style="normal">0.4</tspan></text>
<text transform="translate(62.81,830.95) scale(1.1255,1)" font-size="30.00"><tspan font-family="DejaVu Serif" font-weight="bold" font-style="normal">0.25</tspan></text>
<text transform="translate(886.81,830.95) scale(1.1255,1)" font-size="30.00"><tspan font-family="DejaVu Serif" font-weight="bold" font-style="normal">0.25</tspan></text>
<text transform="translate(85.78,920.95) scale(1.1458,1)" font-size="30.00"><tspan font-family="DejaVu Serif" font-weight="bold" font-style="normal">0.2</tspan></text>
<text transform="translate(886.78,920.95) scale(1.1458,1)" font-size="30.00"><tspan font-family="DejaVu Serif" font-weight="bold" font-style="normal">0.2</tspan></text>
<text transform="translate(62.81,1012.20) scale(1.1255,1)" font-size="30.00"><tspan font-family="DejaVu Serif" font-weight="bold" font-style="normal">0.15</tspan></text>
<text transform="translate(886.81,1012.20) scale(1.1255,1)" font-size="30.00"><tspan font-family="DejaVu Serif" font-weight="bold" font-style="normal">0.15</tspan></text>
<text transform="translate(85.81,1102.20) scale(1.1268,1)" font-size="30.00"><tspan font-family="DejaVu Serif" font-weight="bold" font-style="normal">0.1</tspan></text>
<text transform="translate(886.81,1102.20) scale(1.1268,1)" font-size="30.00"><tspan font-family="DejaVu Serif" font-weight="bold" font-style="normal">0.1</tspan></text>
<text transform="translate(62.81,1192.20) scale(1.1255,1)" font-size="30.00"><tspan font-family="DejaVu Serif" font-weight="bold" font-style="normal">0.05</tspan></text>
<text transform="translate(886.81,1192.20) scale(1.1255,1)" font-size="30.00"><tspan font-family="DejaVu Serif" font-weight="bold" font-style="normal">0.05</tspan></text>
<text transform="translate(119.98,1283.45) scale(1.1806,1)" font-size="30.00"><tspan font-family="DejaVu Serif" font-weight="bold" font-style="normal">0</tspan></text>
<text transform="translate(886.73,1283.45) scale(1.1806,1)" font-size="30.00"><tspan font-family="DejaVu Serif" font-weight="bold" font-style="normal">0</tspan></text>
<text transform="translate(371.04,1420.95) scale(1.0961,1)" font-size="32.50"><tspan font-family="DejaVu Sans" font-weight="bold" font-style="normal">PHIE_ND </tspan><tspan font-family="DejaVu Sans" font-weight="bold" font-style="normal" letter-spacing="0.1em">(V/V)</tspan></text>
<text transform="translate(49.46,1243.19) rotate(-90) scale(1.1607,1)" font-size="33.38"><tspan font-family="DejaVu Sans" font-weight="normal" font-style="normal" stroke="#000" stroke-width="0.018em">Core Porosity</tspan></text>
<text transform="translate(50.62,979.04) rotate(-90) scale(0.9683,1)" font-size="38.63"><tspan font-family="DejaVu Sans" font-weight="normal" font-style="normal" letter-spacing="0.14em" stroke="#000" stroke-width="0.055em">(V/V)</tspan></text>
<text transform="translate(405.61,1302.15) scale(0.9102,1)" font-size="35.06"><tspan font-family="DejaVu Sans" font-weight="bold" font-style="italic">Function Y=X</tspan></text>
<text transform="translate(675.36,1302.15) scale(0.8488,1)" font-size="35.06"><tspan font-family="DejaVu Sans" font-weight="bold" font-style="italic">- r =</tspan></text>
<text transform="translate(753.55,1302.17) scale(0.8825,1)" font-size="32.89"><tspan font-family="DejaVu Sans" font-weight="normal" font-style="italic">0.59</tspan></text>
<text transform="translate(803.65,843.20) scale(1.0757,1)" font-size="54.55"><tspan font-family="Liberation Sans" font-weight="bold" font-style="normal">c</tspan></text>
<text transform="translate(1237.62,766.18) scale(1.1719,1)" font-size="32.00"><tspan font-family="DejaVu Serif" font-weight="bold" font-style="normal">0</tspan></text>
<text transform="translate(1237.62,1390.93) scale(1.1842,1)" font-size="31.67"><tspan font-family="DejaVu Serif" font-weight="bold" font-style="normal">0</tspan></text>
<text transform="translate(1368.23,766.18) scale(1.1055,1)" font-size="32.00"><tspan font-family="DejaVu Serif" font-weight="bold" font-style="normal">0.1</tspan></text>
<text transform="translate(1368.23,1390.93) scale(1.1172,1)" font-size="31.67"><tspan font-family="DejaVu Serif" font-weight="bold" font-style="normal">0.1</tspan></text>
<text transform="translate(1515.48,766.18) scale(1.1084,1)" font-size="32.00"><tspan font-family="DejaVu Serif" font-weight="bold" font-style="normal">0.2</tspan></text>
<text transform="translate(1515.48,1390.93) scale(1.1201,1)" font-size="31.67"><tspan font-family="DejaVu Serif" font-weight="bold" font-style="normal">0.2</tspan></text>
<text transform="translate(1662.74,766.18) scale(1.1024,1)" font-size="32.00"><tspan font-family="DejaVu Serif" font-weight="bold" font-style="normal">0.3</tspan></text>
<text transform="translate(1662.74,1390.93) scale(1.1140,1)" font-size="31.67"><tspan font-family="DejaVu Serif" font-weight="bold" font-style="normal">0.3</tspan></text>
<text transform="translate(1810.77,766.18) scale(1.0795,1)" font-size="32.00"><tspan font-family="DejaVu Serif" font-weight="bold" font-style="normal">0.4</tspan></text>
<text transform="translate(1810.77,1390.93) scale(1.0909,1)" font-size="31.67"><tspan font-family="DejaVu Serif" font-weight="bold" font-style="normal">0.4</tspan></text>
<text transform="translate(1065.25,807.18) scale(1.1073,1)" font-size="31.67"><tspan font-family="DejaVu Serif" font-weight="bold" font-style="normal">0.25</tspan></text>
<text transform="translate(1919.50,807.18) scale(1.1073,1)" font-size="31.67"><tspan font-family="DejaVu Serif" font-weight="bold" font-style="normal">0.25</tspan></text>
<text transform="translate(1089.48,901.93) scale(1.1201,1)" font-size="31.67"><tspan font-family="DejaVu Serif" font-weight="bold" font-style="normal">0.2</tspan></text>
<text transform="translate(1919.48,901.93) scale(1.1201,1)" font-size="31.67"><tspan font-family="DejaVu Serif" font-weight="bold" font-style="normal">0.2</tspan></text>
<text transform="translate(1065.25,996.93) scale(1.1073,1)" font-size="31.67"><tspan font-family="DejaVu Serif" font-weight="bold" font-style="normal">0.15</tspan></text>
<text transform="translate(1919.50,996.93) scale(1.1073,1)" font-size="31.67"><tspan font-family="DejaVu Serif" font-weight="bold" font-style="normal">0.15</tspan></text>
<text transform="translate(1089.50,1089.68) scale(1.1072,1)" font-size="31.67"><tspan font-family="DejaVu Serif" font-weight="bold" font-style="normal">0.1</tspan></text>
<text transform="translate(1919.50,1089.68) scale(1.1072,1)" font-size="31.67"><tspan font-family="DejaVu Serif" font-weight="bold" font-style="normal">0.1</tspan></text>
<text transform="translate(1065.25,1182.93) scale(1.1073,1)" font-size="31.67"><tspan font-family="DejaVu Serif" font-weight="bold" font-style="normal">0.05</tspan></text>
<text transform="translate(1919.50,1182.93) scale(1.1073,1)" font-size="31.67"><tspan font-family="DejaVu Serif" font-weight="bold" font-style="normal">0.05</tspan></text>
<text transform="translate(1125.02,1277.93) scale(1.0921,1)" font-size="31.67"><tspan font-family="DejaVu Serif" font-weight="bold" font-style="normal">0</tspan></text>
<text transform="translate(1919.52,1277.93) scale(1.0921,1)" font-size="31.67"><tspan font-family="DejaVu Serif" font-weight="bold" font-style="normal">0</tspan></text>
<text transform="translate(1354.17,1446.60) scale(1.0558,1)" font-size="35.00"><tspan font-family="DejaVu Sans" font-weight="bold" font-style="normal">NMR_PHIET </tspan><tspan font-family="DejaVu Sans" font-weight="bold" font-style="normal" letter-spacing="0.1em">(V/V)</tspan></text>
<text transform="translate(1054.47,1291.06) rotate(-90) scale(1.1724,1)" font-size="35.15"><tspan font-family="DejaVu Sans" font-weight="normal" font-style="normal" stroke="#000" stroke-width="0.018em">Core Porosity</tspan></text>
<text transform="translate(1055.88,1010.43) rotate(-90) scale(0.9839,1)" font-size="39.47"><tspan font-family="DejaVu Sans" font-weight="normal" font-style="normal" letter-spacing="0.14em" stroke="#000" stroke-width="0.055em">(V/V)</tspan></text>
<text transform="translate(1428.45,1320.42) scale(0.9726,1)" font-size="33.44"><tspan font-family="DejaVu Sans" font-weight="bold" font-style="italic">Function Y=X</tspan></text>
<text transform="translate(1706.79,1320.42) scale(0.9100,1)" font-size="33.44"><tspan font-family="DejaVu Sans" font-weight="bold" font-style="italic">- r =</tspan></text>
<text transform="translate(1795.85,1322.15) scale(0.8989,1)" font-size="34.87"><tspan font-family="DejaVu Sans" font-weight="bold" font-style="italic">0.55</tspan></text>
<text transform="translate(1840.54,853.75) scale(1.0884,1)" font-size="56.51"><tspan font-family="Liberation Sans" font-weight="bold" font-style="normal">d</tspan></text>
<text transform="translate(774.48,1504.17) scale(1.0830,1)" font-size="32.67"><tspan font-family="DejaVu Serif" font-weight="bold" font-style="normal">0.1</tspan></text>
<text transform="translate(774.48,2138.43) scale(1.1172,1)" font-size="31.67"><tspan font-family="DejaVu Serif" font-weight="bold" font-style="normal">0.1</tspan></text>
<text transform="translate(923.73,1504.17) scale(1.0810,1)" font-size="32.67"><tspan font-family="DejaVu Serif" font-weight="bold" font-style="normal">0.2</tspan></text>
<text transform="translate(923.73,2138.43) scale(1.1151,1)" font-size="31.67"><tspan font-family="DejaVu Serif" font-weight="bold" font-style="normal">0.2</tspan></text>
<text transform="translate(1073.99,1504.17) scale(1.0799,1)" font-size="32.67"><tspan font-family="DejaVu Serif" font-weight="bold" font-style="normal">0.3</tspan></text>
<text transform="translate(1073.99,2138.43) scale(1.1140,1)" font-size="31.67"><tspan font-family="DejaVu Serif" font-weight="bold" font-style="normal">0.3</tspan></text>
<text transform="translate(1224.01,1504.17) scale(1.0668,1)" font-size="32.67"><tspan font-family="DejaVu Serif" font-weight="bold" font-style="normal">0.4</tspan></text>
<text transform="translate(1224.01,2138.43) scale(1.1005,1)" font-size="31.67"><tspan font-family="DejaVu Serif" font-weight="bold" font-style="normal">0.4</tspan></text>
<text transform="translate(1372.71,1504.17) scale(1.0933,1)" font-size="32.67"><tspan font-family="DejaVu Serif" font-weight="bold" font-style="normal">0.5</tspan></text>
<text transform="translate(1372.71,2138.43) scale(1.1278,1)" font-size="31.67"><tspan font-family="DejaVu Serif" font-weight="bold" font-style="normal">0.5</tspan></text>
<text transform="translate(555.71,1568.43) scale(1.1278,1)" font-size="31.67"><tspan font-family="DejaVu Serif" font-weight="bold" font-style="normal">0.45</tspan></text>
<text transform="translate(1423.96,1568.43) scale(1.1278,1)" font-size="31.67"><tspan font-family="DejaVu Serif" font-weight="bold" font-style="normal">0.45</tspan></text>
<text transform="translate(580.76,1624.68) scale(1.1005,1)" font-size="31.67"><tspan font-family="DejaVu Serif" font-weight="bold" font-style="normal">0.4</tspan></text>
<text transform="translate(1424.01,1624.68) scale(1.1005,1)" font-size="31.67"><tspan font-family="DejaVu Serif" font-weight="bold" font-style="normal">0.4</tspan></text>
<text transform="translate(555.71,1680.93) scale(1.1278,1)" font-size="31.67"><tspan font-family="DejaVu Serif" font-weight="bold" font-style="normal">0.35</tspan></text>
<text transform="translate(1423.96,1680.93) scale(1.1278,1)" font-size="31.67"><tspan font-family="DejaVu Serif" font-weight="bold" font-style="normal">0.35</tspan></text>
<text transform="translate(580.74,1740.93) scale(1.1140,1)" font-size="31.67"><tspan font-family="DejaVu Serif" font-weight="bold" font-style="normal">0.3</tspan></text>
<text transform="translate(1423.99,1740.93) scale(1.1140,1)" font-size="31.67"><tspan font-family="DejaVu Serif" font-weight="bold" font-style="normal">0.3</tspan></text>
<text transform="translate(555.71,1795.93) scale(1.1278,1)" font-size="31.67"><tspan font-family="DejaVu Serif" font-weight="bold" font-style="normal">0.25</tspan></text>
<text transform="translate(1423.96,1795.93) scale(1.1278,1)" font-size="31.67"><tspan font-family="DejaVu Serif" font-weight="bold" font-style="normal">0.25</tspan></text>
<text transform="translate(580.70,1854.68) scale(1.1349,1)" font-size="31.67"><tspan font-family="DejaVu Serif" font-weight="bold" font-style="normal">0.2</tspan></text>
<text transform="translate(1423.95,1854.68) scale(1.1349,1)" font-size="31.67"><tspan font-family="DejaVu Serif" font-weight="bold" font-style="normal">0.2</tspan></text>
<text transform="translate(555.71,1910.93) scale(1.1278,1)" font-size="31.67"><tspan font-family="DejaVu Serif" font-weight="bold" font-style="normal">0.15</tspan></text>
<text transform="translate(1423.96,1910.93) scale(1.1278,1)" font-size="31.67"><tspan font-family="DejaVu Serif" font-weight="bold" font-style="normal">0.15</tspan></text>
<text transform="translate(580.69,1966.93) scale(1.1420,1)" font-size="31.67"><tspan font-family="DejaVu Serif" font-weight="bold" font-style="normal">0.1</tspan></text>
<text transform="translate(1423.94,1966.93) scale(1.1420,1)" font-size="31.67"><tspan font-family="DejaVu Serif" font-weight="bold" font-style="normal">0.1</tspan></text>
<text transform="translate(555.71,2024.68) scale(1.1278,1)" font-size="31.67"><tspan font-family="DejaVu Serif" font-weight="bold" font-style="normal">0.05</tspan></text>
<text transform="translate(1423.96,2024.68) scale(1.1278,1)" font-size="31.67"><tspan font-family="DejaVu Serif" font-weight="bold" font-style="normal">0.05</tspan></text>
<text transform="translate(616.98,2082.18) scale(1.1184,1)" font-size="31.67"><tspan font-family="DejaVu Serif" font-weight="bold" font-style="normal">0</tspan></text>
<text transform="translate(1423.98,2082.18) scale(1.1184,1)" font-size="31.67"><tspan font-family="DejaVu Serif" font-weight="bold" font-style="normal">0</tspan></text>
<text transform="translate(841.65,2193.45) scale(1.1450,1)" font-size="32.50"><tspan font-family="DejaVu Sans" font-weight="bold" font-style="normal">PHIT_QLSND </tspan><tspan font-family="DejaVu Sans" font-weight="bold" font-style="normal" letter-spacing="0.1em">(V/V)</tspan></text>
<text transform="translate(536.52,1995.75) rotate(-90) scale(1.2593,1)" font-size="33.94"><tspan font-family="DejaVu Sans" font-weight="normal" font-style="normal" stroke="#000" stroke-width="0.018em">NMR_PHIET</tspan></text>
<text transform="translate(539.67,1740.57) rotate(-90) scale(0.9968,1)" font-size="39.58"><tspan font-family="DejaVu Sans" font-weight="normal" font-style="normal" letter-spacing="0.14em" stroke="#000" stroke-width="0.055em">(V/V)</tspan></text>
<text transform="translate(923.04,2068.55) scale(0.9499,1)" font-size="34.68"><tspan font-family="DejaVu Sans" font-weight="bold" font-style="italic">Function Y=X</tspan></text>
<text transform="translate(1206.29,2068.55) scale(0.8764,1)" font-size="34.68"><tspan font-family="DejaVu Sans" font-weight="bold" font-style="italic">- r =</tspan></text>
<text transform="translate(1294.75,2069.05) scale(0.8944,1)" font-size="35.00"><tspan font-family="DejaVu Sans" font-weight="bold" font-style="italic">0.55</tspan></text>
<text transform="translate(696.31,1587.45) scale(1.0989,1)" font-size="55.45"><tspan font-family="Liberation Sans" font-weight="bold" font-style="normal">e</tspan></text>
</g></svg></body></html>
